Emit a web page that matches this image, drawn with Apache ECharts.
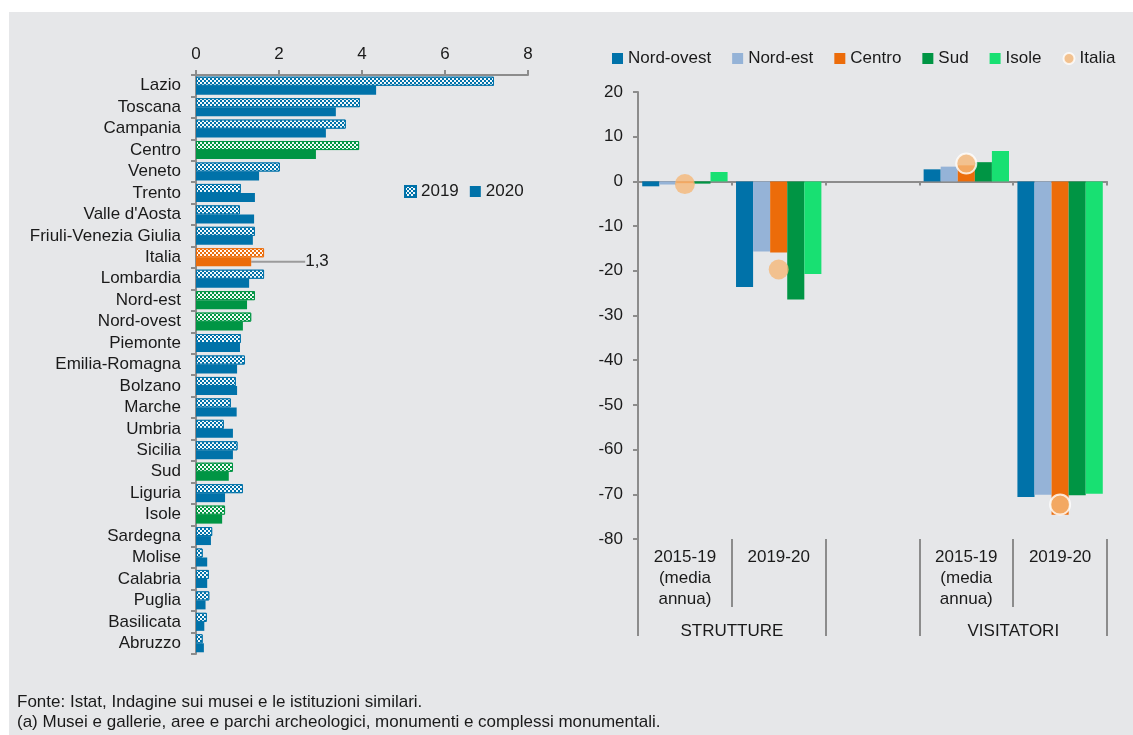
<!DOCTYPE html>
<html><head><meta charset="utf-8">
<script src="https://cdn.jsdelivr.net/npm/echarts@6/dist/echarts.min.js"></script>
<style>
html,body{margin:0;padding:0;background:#fff;overflow:hidden;}
#bg{position:absolute;left:9px;top:12px;width:1124px;height:723px;background:#E6E7E9;}
#chart{position:absolute;left:0;top:0;width:1133px;height:735px;}
</style></head><body><div id="bg"></div><div id="chart"></div>
<script>
// ---- data: left chart ----
const regions = ['Lazio','Toscana','Campania','Centro','Veneto','Trento',"Valle d'Aosta",'Friuli-Venezia Giulia','Italia','Lombardia','Nord-est','Nord-ovest','Piemonte','Emilia-Romagna','Bolzano','Marche','Umbria','Sicilia','Sud','Liguria','Isole','Sardegna','Molise','Calabria','Puglia','Basilicata','Abruzzo'];
// r = regione, m = ripartizione, i = Italia
const kinds = ['r','r','r','m','r','r','r','r','i','r','m','m','r','r','r','r','r','r','m','r','m','r','r','r','r','r','r'];
const v2019 = [7.18,3.95,3.61,3.93,2.02,1.08,1.06,1.42,1.64,1.64,1.42,1.33,1.08,1.18,0.96,0.84,0.67,1.00,0.89,1.13,0.70,0.39,0.16,0.31,0.32,0.26,0.16];
const v2020 = [4.34,3.37,3.13,2.89,1.52,1.42,1.40,1.37,1.33,1.28,1.23,1.13,1.06,0.99,0.99,0.98,0.89,0.89,0.79,0.70,0.63,0.36,0.27,0.27,0.23,0.20,0.19];
const leftTicks = {min:0, max:8, interval:2};
const italiaLabel = '1,3';
// ---- data: right chart ----
const rightCats = ['2015-19\n(media\nannua)','2019-20','','2015-19\n(media\nannua)','2019-20'];
const groupCats = ['STRUTTURE','','','VISITATORI',''];
const seriesNames = ['Nord-ovest','Nord-est','Centro','Sud','Isole'];
const nordOvest = [-1.1,-23.6,null,2.7,-70.6];
const nordEst   = [-0.7,-15.7,null,3.3,-70.1];
const centro    = [-0.4,-15.9,null,3.6,-74.6];
const sud       = [-0.5,-26.4,null,4.3,-70.2];
const isole     = [2.1,-20.7,null,6.8,-69.9];
const italia    = [-0.6,-19.7,null,4.0,-72.3];
const rightTicks = {min:-80, max:20, interval:10};

// ---- styles ----
const FONT = '"Liberation Sans", Arial, sans-serif';
const FS = 17;
const TXT = '#1a1a1a';
const GRAY = '#8c8c8c';
const BLUE = '#0072A9', LBLUE = '#95B3D7', ORANGE = '#EC6C0A', GREEN = '#009544', LGREEN = '#18E072', PEACH = '#F5B878';
const colorOf = k => k === 'm' ? GREEN : (k === 'i' ? ORANGE : BLUE);
const DECAL = {symbol:'rect', symbolSize:1, color:'rgba(255,255,255,0.95)', dashArrayX:[[2,2],[0,2,2,0]], dashArrayY:[2,0], rotation:0};
const rightArrays = [nordOvest, nordEst, centro, sud, isole];
const rightColors = [BLUE, LBLUE, ORANGE, GREEN, LGREEN];

const chart = echarts.init(document.getElementById('chart'), null, {renderer:'canvas', width:1133, height:735});
const axisLineStyle = {color:GRAY, width:2};

const option = {
  animation:false,
  backgroundColor:'transparent',
  textStyle:{fontFamily:FONT},
  title:[{
    text:'Fonte: Istat, Indagine sui musei e le istituzioni similari.\n(a) Musei e gallerie, aree e parchi archeologici, monumenti e complessi monumentali.',
    left:12, top:687,
    textStyle:{fontSize:17, fontWeight:'normal', color:TXT, lineHeight:20, fontFamily:FONT}
  }],
  legend:[
    {left:399, top:178, itemWidth:11, itemHeight:11, itemGap:11, data:[{name:'2019', icon:'rect'},{name:'2020', icon:'rect'}],
     textStyle:{fontSize:FS, color:TXT, fontFamily:FONT}},
    {left:607, top:45, itemWidth:11, itemHeight:11, itemGap:21,
     textStyle:{fontSize:FS, color:TXT, fontFamily:FONT},
     data: seriesNames.map(n => ({name:n, icon:'rect'})).concat([{name:'Italia', icon:'circle', itemStyle:{borderColor:'#fff', borderWidth:2}}])}
  ],
  grid:[
    {left:196, top:75, width:332, height:579},
    {left:638, top:92, width:469, height:447}
  ],
  xAxis:[
    {gridIndex:0, type:'value', position:'top', min:leftTicks.min, max:leftTicks.max, interval:leftTicks.interval,
     axisLine:{show:true, lineStyle:axisLineStyle}, axisTick:{show:true, length:5, lineStyle:axisLineStyle},
     axisLabel:{fontSize:FS, color:TXT, margin:12}, splitLine:{show:false}},
    {gridIndex:1, type:'category', data:rightCats, position:'bottom',
     axisLine:{show:true, onZero:true, lineStyle:axisLineStyle},
     axisTick:{show:true, length:4, interval:0, lineStyle:axisLineStyle}, axisLabel:{show:false}},
    {gridIndex:1, type:'category', data:rightCats, position:'bottom',
     axisLine:{show:false, onZero:false},
     axisTick:{show:true, length:68, interval:0, lineStyle:axisLineStyle},
     axisLabel:{interval:0, fontSize:FS, color:TXT, lineHeight:21, margin:8}},
    {gridIndex:1, type:'category', data:groupCats, position:'bottom', offset:68,
     axisLine:{show:false, onZero:false},
     axisTick:{show:true, length:29, interval:(i) => i === 0 || i === 2 || i === 3, lineStyle:axisLineStyle},
     axisLabel:{interval:0, margin:16, formatter: v => v ? '{g|' + v + '}' : '',
       rich:{g:{fontSize:FS, color:TXT, fontFamily:FONT, padding:[0,0,0,94]}}}}
  ],
  yAxis:[
    {gridIndex:0, type:'category', data:regions, inverse:true,
     axisLine:{show:true, lineStyle:axisLineStyle}, axisTick:{show:true, length:5, lineStyle:axisLineStyle},
     axisLabel:{interval:0, fontSize:FS, color:TXT, margin:15}},
    {gridIndex:1, type:'value', min:rightTicks.min, max:rightTicks.max, interval:rightTicks.interval,
     axisLine:{show:true, lineStyle:axisLineStyle}, axisTick:{show:true, length:5, lineStyle:axisLineStyle},
     axisLabel:{fontSize:FS, color:TXT, margin:15}, splitLine:{show:false}}
  ],
  series:[
    {name:'2019', type:'bar', xAxisIndex:0, yAxisIndex:0, barGap:'0%', barCategoryGap:'16%',
     itemStyle:{color:BLUE, borderColor:BLUE, borderWidth:1, decal:DECAL},
     data: v2019.map((v,i) => ({value:v, itemStyle:{color:colorOf(kinds[i]), borderColor:colorOf(kinds[i])}}))},
    {name:'2020', type:'bar', xAxisIndex:0, yAxisIndex:0, barGap:'0%', barCategoryGap:'16%',
     itemStyle:{color:BLUE},
     labelLayout:{dx:50},
     labelLine:{show:true, lineStyle:{color:'#9b9b9b', width:2}},
     data: v2020.map((v,i) => {
       const d = {value:v, itemStyle:{color:colorOf(kinds[i])}};
       if (kinds[i] === 'i') d.label = {show:true, position:'right', distance:4, formatter:italiaLabel, fontSize:FS, color:TXT, fontFamily:FONT};
       return d;
     })}
  ].concat(rightArrays.map((arr,k) => ({
     name:seriesNames[k], type:'bar', xAxisIndex:1, yAxisIndex:1, barGap:'0%', barCategoryGap:'9%',
     itemStyle:{color:rightColors[k]},
     data: arr.map(v => v === null ? '-' : v)
  }))).concat([{
     name:'Italia', type:'scatter', xAxisIndex:1, yAxisIndex:1, symbolSize:20, z:5,
     itemStyle:{color:PEACH},
     data: italia.map((v,i) => v === null ? [i,'-'] : {value:[i,v], itemStyle:{borderColor:'#fff', borderWidth: i >= 3 ? 2 : 0}})
  }])
};
chart.setOption(option);
</script></body></html>
